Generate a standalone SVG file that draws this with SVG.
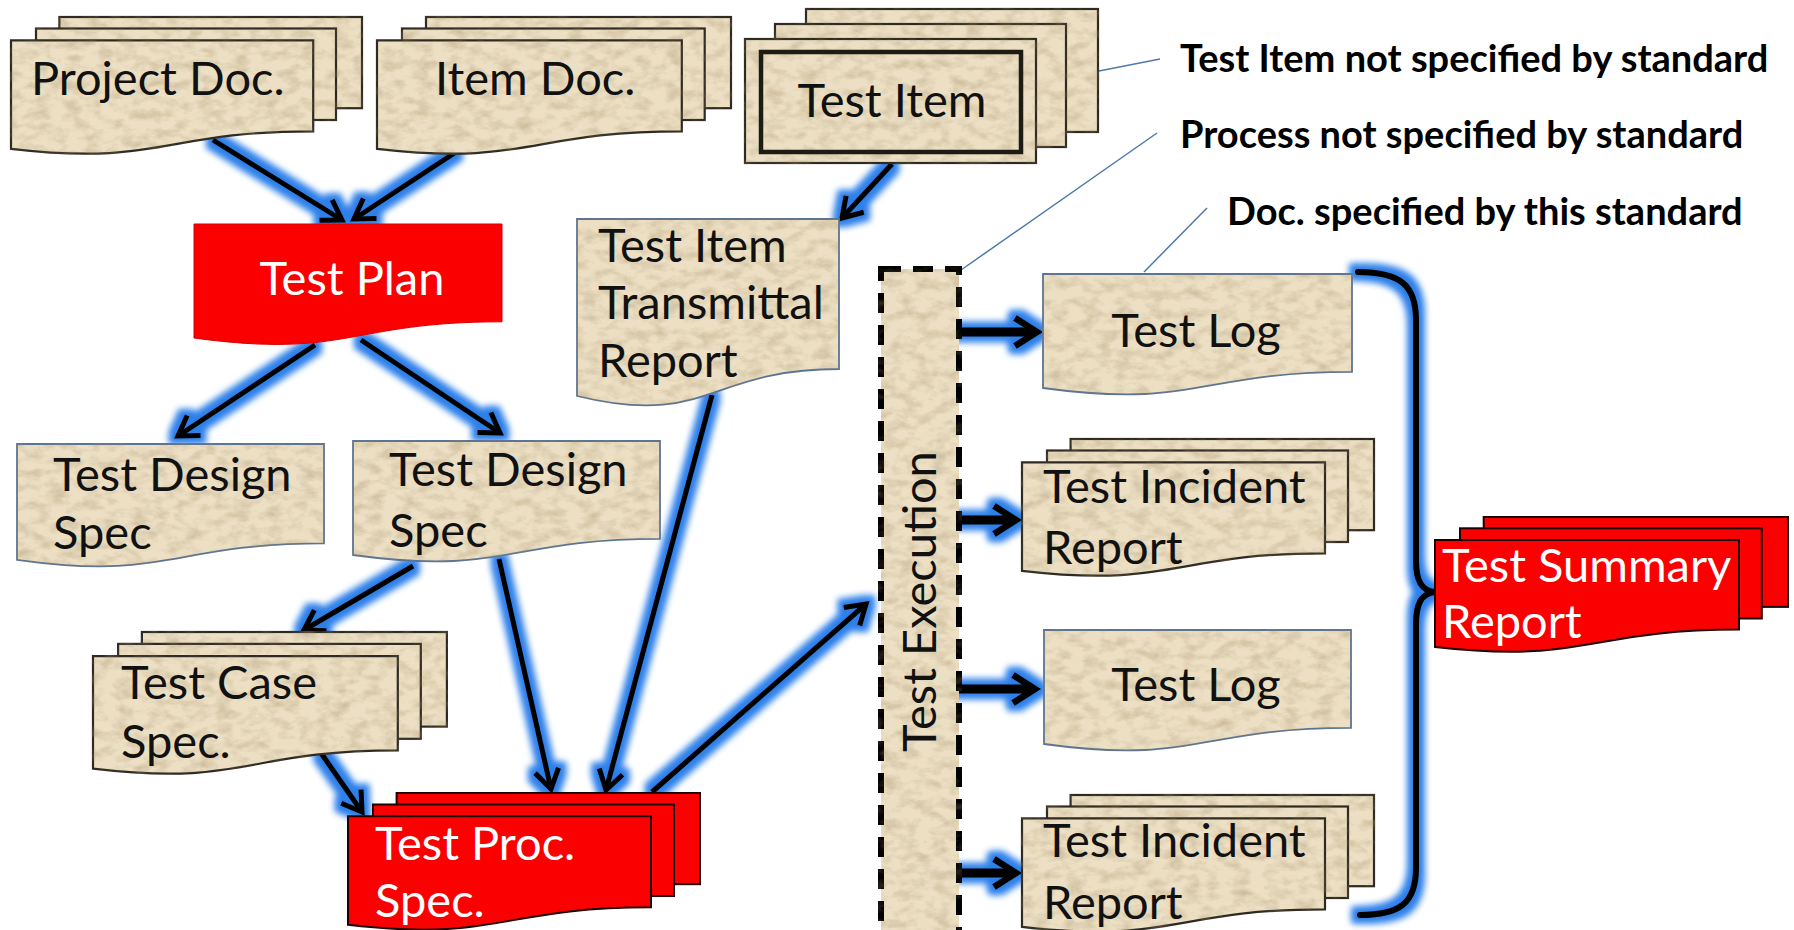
<svg xmlns="http://www.w3.org/2000/svg" width="1794" height="930" viewBox="0 0 1794 930">
  <defs>
    <style>
      .pd { fill: #ecdfc3; filter: url(#paper); }
      .dk { stroke: #2e2a22; stroke-width: 2.2; }
      .sl { stroke: #5b7494; stroke-width: 1.8; }
      .rd { fill: #fa0000; stroke: #1e0000; stroke-width: 2; }
      .t { font-family: Lato, "Liberation Sans", sans-serif; font-size: 47px; fill: #111; }
      .w { fill: #fff; }
      .leg { font-family: Lato, "Liberation Sans", sans-serif; font-weight: 700; font-size: 38px; fill: #000; }
      .cn { fill: none; stroke: #000; stroke-width: 5; marker-end: url(#ah); }
      .cw { fill: none; stroke: #000; stroke-width: 9; marker-end: url(#ahw); }
      .brace { fill: none; stroke: #000; stroke-width: 6; stroke-linecap: round; }
      .lead { fill: none; stroke: #4f79ab; stroke-width: 1.5; }
    </style>
    <!-- fine parchment grain for the document shapes -->
    <filter id="paper" x="-5%" y="-5%" width="110%" height="110%" color-interpolation-filters="sRGB">
      <feTurbulence type="fractalNoise" baseFrequency="0.06 0.1" numOctaves="4" seed="5" result="n"/>
      <feColorMatrix in="n" type="matrix" values="0 0 0 0 0.62  0 0 0 0 0.53  0 0 0 0 0.38  0.75 0 0 0 -0.31" result="spots"/>
      <feComposite in="spots" in2="SourceGraphic" operator="in" result="tex"/>
      <feMerge><feMergeNode in="SourceGraphic"/><feMergeNode in="tex"/></feMerge>
    </filter>
    <!-- blue halo around connectors -->
    <filter id="glow" filterUnits="userSpaceOnUse" x="0" y="0" width="1794" height="930" color-interpolation-filters="sRGB">
      <feMorphology in="SourceAlpha" operator="dilate" radius="6" result="d"/>
      <feGaussianBlur in="d" stdDeviation="3" result="b"/>
      <feFlood flood-color="#2d80ea"/>
      <feComposite in2="b" operator="in" result="g"/>
      <feMerge><feMergeNode in="g"/><feMergeNode in="SourceGraphic"/></feMerge>
    </filter>
    <marker id="ah" viewBox="0 0 36 32" markerWidth="36" markerHeight="32" refX="24" refY="16" orient="auto" markerUnits="userSpaceOnUse" overflow="visible">
      <path d="M5,4 L24,16 L5,28" fill="none" stroke="#000" stroke-width="5"/>
    </marker>
    <marker id="ahw" viewBox="0 0 44 36" markerWidth="44" markerHeight="36" refX="22" refY="18" orient="auto" markerUnits="userSpaceOnUse" overflow="visible">
      <path d="M6,4 L28,18 L6,32" fill="none" stroke="#000" stroke-width="6.5"/>
    </marker>
  </defs>

  <rect width="1794" height="930" fill="#fff"/>

  <!-- connectors (drawn beneath the documents) -->
  <g id="connectors" filter="url(#glow)">
    <path class="cn" d="M213,140 L342,220"/>
    <path class="cn" d="M456,152 L354,219"/>
    <path class="cn" d="M315,345 L178,436"/>
    <path class="cn" d="M361,340 L500,433"/>
    <path class="cn" d="M892,164 L842,218"/>
    <path class="cn" d="M712,395 L606,790"/>
    <path class="cn" d="M413,566 L304,630"/>
    <path class="cn" d="M499,559 L551,789"/>
    <path class="cn" d="M321,753 L362,812"/>
    <path class="cn" d="M652,792 L866,604"/>
    <path class="cw" d="M959,332 L1031,332"/>
    <path class="cw" d="M959,520 L1010,520"/>
    <path class="cw" d="M959,689 L1029,689"/>
    <path class="cw" d="M959,873 L1010,873"/>
    <path class="brace" d="M1358,272 C1400,272 1416,285 1416,320 V560 C1416,582 1422,590 1434,592 C1422,594 1416,602 1416,625 V868 C1416,903 1400,915 1360,915"/>
  </g>

  <!-- legend leader lines -->
  <g id="leaders">
    <path class="lead" d="M1099,71 L1160,59"/>
    <path class="lead" d="M961,270 L1157,133"/>
    <path class="lead" d="M1144,272 L1207,208"/>
  </g>

  <g id="project-doc">
    <rect class="pd dk" x="59.4" y="17" width="302.6" height="91.2"/>
    <rect class="pd dk" x="36" y="28.5" width="300" height="91.5"/>
    <path class="pd dk" d="M11,40.3 H313.2 V131.3 C161.9,131.3 161.9,166.3 11,148.8 Z"/>
    <text class="t" x="31" y="95">Project Doc.</text>
  </g>

  <g id="item-doc">
    <rect class="pd dk" x="426" y="17" width="305" height="91.2"/>
    <rect class="pd dk" x="402" y="28.5" width="302.7" height="91.5"/>
    <path class="pd dk" d="M377,40.3 H681.8 V131.3 C529,131.3 529,166.3 377,148.8 Z"/>
    <text class="t" x="435" y="95">Item Doc.</text>
  </g>

  <g id="test-item">
    <rect class="pd dk" x="806" y="9" width="292" height="123"/>
    <rect class="pd dk" x="775" y="24" width="291" height="123"/>
    <rect class="pd dk" x="745" y="39" width="291" height="124"/>
    <rect x="761" y="52" width="260" height="100" fill="none" stroke="#1e1a14" stroke-width="4.5"/>
    <text class="t" x="892" y="117" text-anchor="middle">Test Item</text>
  </g>

  <g id="test-plan">
    <path d="M194,224 H502 V321.8 C348,321.8 348,359 194,338 Z" fill="#fa0000" stroke="#d80000" stroke-width="1"/>
    <text class="t w" x="352" y="295" text-anchor="middle">Test Plan</text>
  </g>

  <g id="test-item-transmittal-report">
    <path class="pd sl" d="M577,219 H839 V369 C708,369 708,428 577,396 Z"/>
    <text class="t" x="598" y="262">Test Item</text>
    <text class="t" x="598" y="319">Transmittal</text>
    <text class="t" x="598" y="377">Report</text>
  </g>

  <g id="test-execution">
    <rect class="pd" x="881" y="269" width="78" height="680" stroke="#000" stroke-width="6" stroke-dasharray="20 12"/>
    <text class="t" transform="translate(936,752) rotate(-90)" x="0" y="0">Test Execution</text>
  </g>

  <g id="test-log-1">
    <path class="pd sl" d="M1043,274 H1352 V371.8 C1197.5,371.8 1197.5,409 1043,388 Z"/>
    <text class="t" x="1196" y="347" text-anchor="middle">Test Log</text>
  </g>

  <g id="test-incident-report-1">
    <rect class="pd dk" x="1070.6" y="439" width="303.4" height="91.2"/>
    <rect class="pd dk" x="1047" y="450.5" width="301" height="91.5"/>
    <path class="pd dk" d="M1022,462.3 H1325 V553.3 C1173.4,553.3 1173.4,588.3 1022,570.8 Z"/>
    <text class="t" x="1043" y="503">Test Incident</text>
    <text class="t" x="1043" y="564">Report</text>
  </g>

  <g id="test-log-2">
    <path class="pd sl" d="M1044,630 H1351 V727.8 C1197.5,727.8 1197.5,765 1044,744 Z"/>
    <text class="t" x="1196" y="701" text-anchor="middle">Test Log</text>
  </g>

  <g id="test-incident-report-2">
    <rect class="pd dk" x="1070.6" y="795" width="303.4" height="91.2"/>
    <rect class="pd dk" x="1047" y="806.5" width="301" height="91.5"/>
    <path class="pd dk" d="M1022,818.3 H1325 V909.3 C1173.4,909.3 1173.4,944.3 1022,926.8 Z"/>
    <text class="t" x="1043" y="857">Test Incident</text>
    <text class="t" x="1043" y="919">Report</text>
  </g>

  <g id="test-summary-report">
    <rect class="rd" x="1483.7" y="517" width="304.3" height="89.9"/>
    <rect class="rd" x="1460" y="528.3" width="301.8" height="90.2"/>
    <path class="rd" d="M1435,540 H1739 V629.6 C1586.8,629.6 1586.8,664.2 1435,646.9 Z"/>
    <text class="t w" x="1442" y="582">Test Summary</text>
    <text class="t w" x="1442" y="638">Report</text>
  </g>

  <g id="test-design-spec-1">
    <path class="pd sl" d="M17,444 H324 V543.4 C170.5,543.4 170.5,581.3 17,559.8 Z"/>
    <text class="t" x="53" y="491">Test Design</text>
    <text class="t" x="53" y="549">Spec</text>
  </g>

  <g id="test-design-spec-2">
    <path class="pd sl" d="M353,441 H660 V538.8 C506.5,538.8 506.5,576 353,555 Z"/>
    <text class="t" x="389" y="486">Test Design</text>
    <text class="t" x="389" y="547">Spec</text>
  </g>

  <g id="test-case-spec">
    <rect class="pd dk" x="141.9" y="632" width="305" height="94.6"/>
    <rect class="pd dk" x="118.1" y="643.9" width="302.7" height="94.9"/>
    <path class="pd dk" d="M93,656.1 H397.8 V750.4 C245.2,750.4 245.2,786.8 93,768.6 Z"/>
    <text class="t" x="121" y="699">Test Case</text>
    <text class="t" x="121" y="758">Spec.</text>
  </g>

  <g id="test-proc-spec">
    <rect class="rd" x="396.6" y="793" width="303.4" height="91.2"/>
    <rect class="rd" x="373" y="804.5" width="301" height="91.5"/>
    <path class="rd" d="M348,816.3 H651 V907.3 C499.4,907.3 499.4,942.3 348,924.8 Z"/>
    <text class="t w" x="375" y="860">Test Proc.</text>
    <text class="t w" x="375" y="917">Spec.</text>
  </g>

  <g id="legend">
    <text class="leg" x="1180" y="72">Test Item not specified by standard</text>
    <text class="leg" x="1180" y="148">Process not specified by standard</text>
    <text class="leg" x="1227" y="225">Doc. specified by this standard</text>
  </g>
</svg>
